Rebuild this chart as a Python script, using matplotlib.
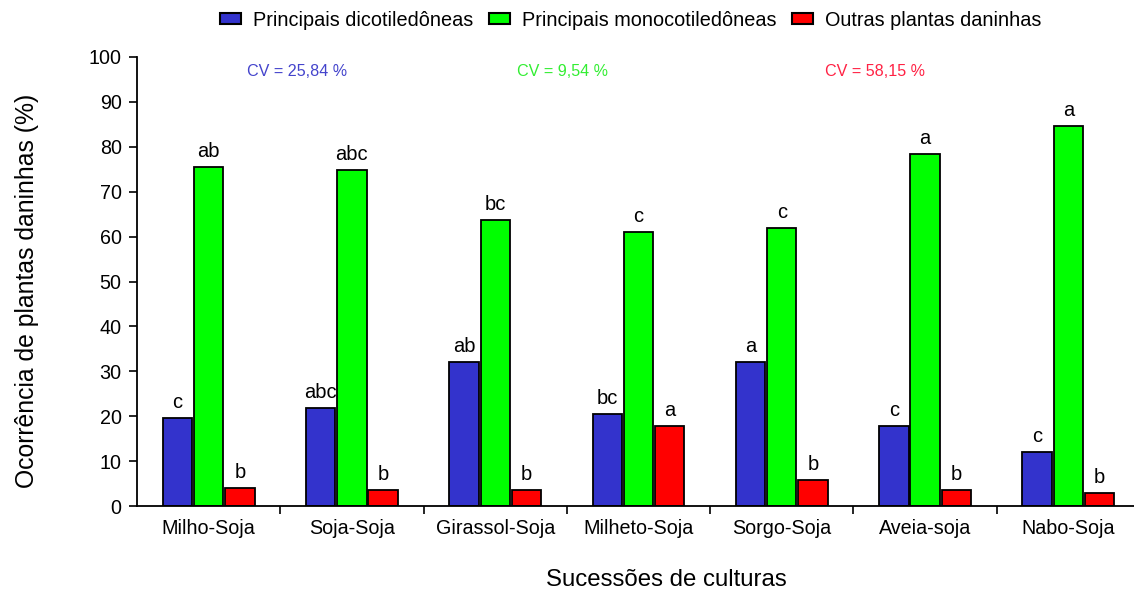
# Ocorrência de plantas daninhas por sucessão de culturas
import numpy as np
import matplotlib.pyplot as plt
from matplotlib.patches import Patch

plt.rcParams['font.family'] = ['Liberation Sans', 'DejaVu Sans']

culturas = ['Milho-Soja', 'Soja-Soja', 'Girassol-Soja', 'Milheto-Soja',
            'Sorgo-Soja', 'Aveia-soja', 'Nabo-Soja']
series = ['Principais dicotiledôneas', 'Principais monocotiledôneas', 'Outras plantas daninhas']
dicot = [19.6, 21.8, 32.0, 20.5, 32.0, 17.8, 12.0]
monocot = [75.5, 74.8, 63.7, 61.0, 62.0, 78.4, 84.6]
outras = [4.0, 3.6, 3.6, 17.8, 5.8, 3.6, 3.0]
letras_dicot = ['c', 'abc', 'ab', 'bc', 'a', 'c', 'c']
letras_monocot = ['ab', 'abc', 'bc', 'c', 'c', 'a', 'a']
letras_outras = ['b', 'b', 'b', 'a', 'b', 'b', 'b']
cv_textos = ['CV = 25,84 %', 'CV = 9,54 %', 'CV = 58,15 %']
cores = ['#3333CC', '#00FF00', '#FF0000']
cores_cv = ['#4444CC', '#33EE33', '#FF2244']

fig = plt.figure(figsize=(11.34, 5.97), dpi=100)
ax = fig.add_axes([137 / 1134, 91 / 597, 1003 / 1134, 449 / 597])

x = np.arange(len(culturas))
w = 0.205
offs = [-0.218, 0, 0.218]
for vals, letras, cor, off in zip([dicot, monocot, outras],
                                  [letras_dicot, letras_monocot, letras_outras],
                                  cores, offs):
    ax.bar(x + off, vals, width=w, color=cor, edgecolor='black', linewidth=1.3, zorder=2)
    for xi, v, l in zip(x + off, vals, letras):
        ax.text(xi, v + 1.3, l, ha='center', va='bottom', fontsize=14.5)

# CV de cada grupo
cv_x = [0.62, 2.47, 4.65]
for xc, t, c in zip(cv_x, cv_textos, cores_cv):
    ax.text(xc, 96.7, t, ha='center', va='center', fontsize=11.6, color=c)

ax.set_ylim(0, 100)
ax.set_xlim(-0.5, 6.5)
ax.set_yticks(np.arange(0, 101, 10))
ax.tick_params(axis='y', labelsize=14.2, length=6, width=1.2, direction='out', pad=5)
ax.set_xticks(x, culturas)
ax.tick_params(axis='x', which='major', length=0, labelsize=14.2, pad=9)
ax.set_xticks(np.arange(0.5, 6.5, 1), minor=True)
ax.tick_params(axis='x', which='minor', length=6, width=1.2, direction='out')
ax.spines['top'].set_visible(False)
ax.spines['right'].set_visible(False)
ax.spines['left'].set_linewidth(1.3)
ax.spines['bottom'].set_linewidth(1.3)

ax.set_ylabel('Ocorrência de plantas daninhas (%)', fontsize=17.8, labelpad=36)
ax.yaxis.label.set_y(0.48)
ax.set_xlabel('Sucessões de culturas', fontsize=17.3, labelpad=23)
ax.xaxis.label.set_x(0.528)

handles = [Patch(facecolor=c, edgecolor='black', linewidth=1.5) for c in cores]
fig.legend(handles, series, loc='center', bbox_to_anchor=(0.556, 1 - 20 / 597), ncol=3,
           frameon=False, fontsize=14.3, handlelength=1.05, handleheight=0.5,
           handletextpad=0.6, columnspacing=0.8, borderpad=0)

fig.savefig('out.png', dpi=100)
